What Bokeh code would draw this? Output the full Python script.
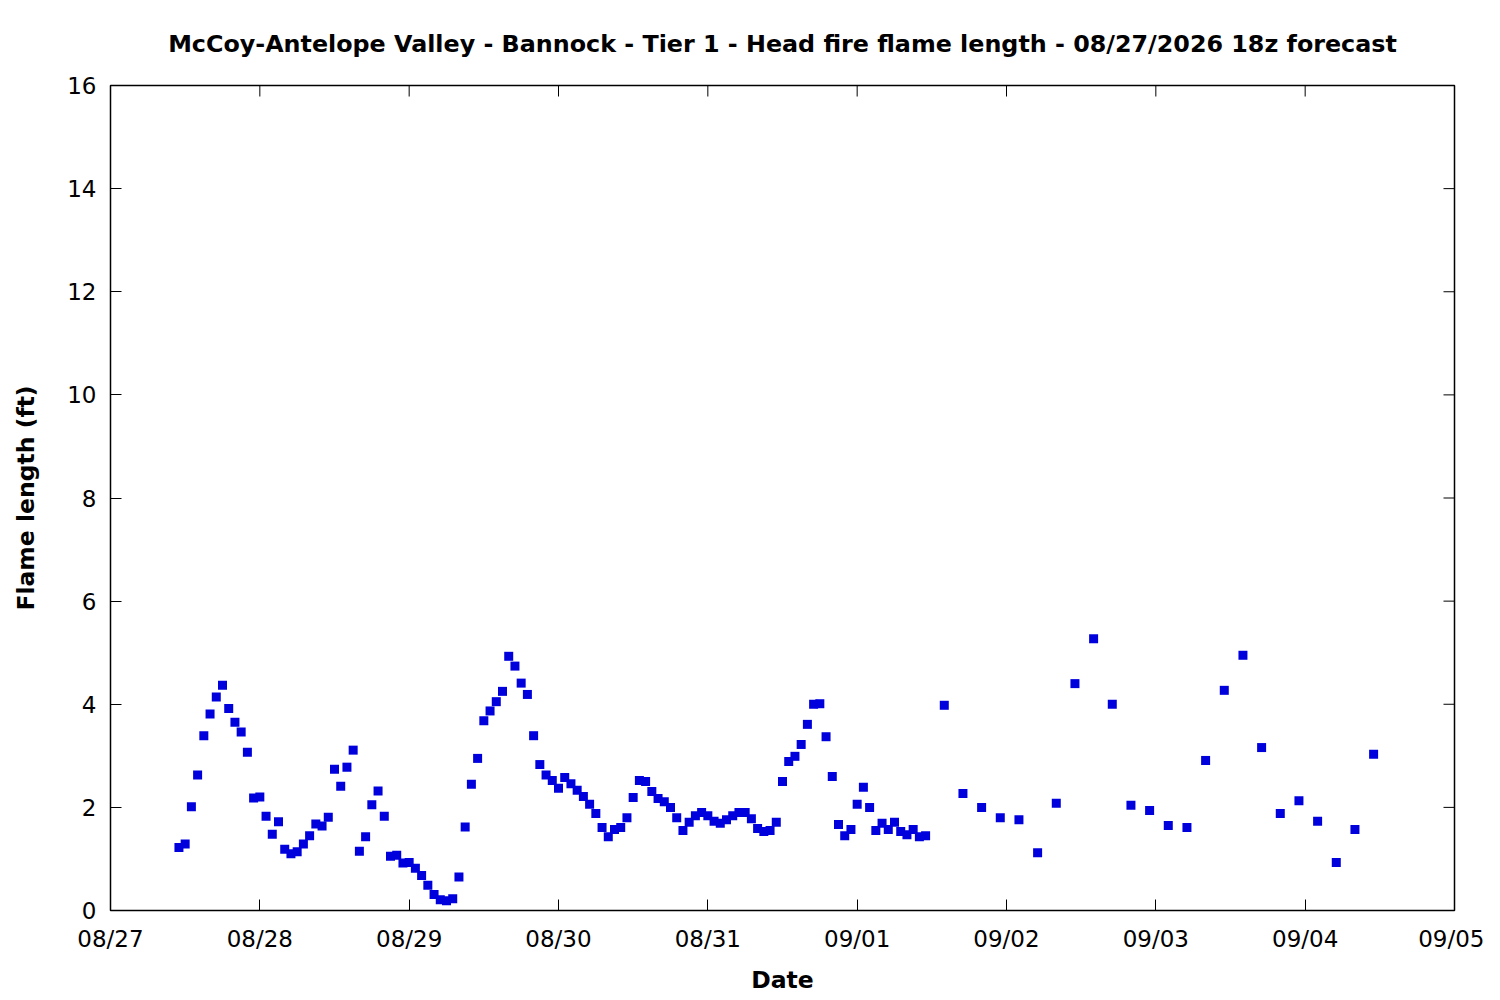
import pandas as pd
from bokeh.plotting import figure
from bokeh.models import (ColumnDataSource, FixedTicker, DatetimeTickFormatter,
                          Range1d, Title)
from bokeh.embed import file_html
from bokeh.resources import INLINE

title_text = "McCoy-Antelope Valley - Bannock - Tier 1 - Head fire flame length - 08/27/2026 18z forecast"
x_label = "Date"
y_label = "Flame length (ft)"

# hourly forecast points, starting 08/27 11z
hourly_start = "2026-08-27 11:00"
hourly_values = [
    1.22, 1.29, 2.01, 2.63, 3.39, 3.81, 4.14, 4.37, 3.92, 3.65,
    3.46, 3.07, 2.18, 2.20, 1.83, 1.48, 1.72, 1.19, 1.10, 1.14,
    1.29, 1.45, 1.68, 1.64, 1.81, 2.74, 2.41, 2.78, 3.11, 1.15,
    1.43, 2.05, 2.32, 1.83, 1.05, 1.07, 0.92, 0.93, 0.82, 0.68,
    0.49, 0.31, 0.21, 0.19, 0.23, 0.65, 1.62, 2.45, 2.95, 3.68,
    3.87, 4.05, 4.25, 4.93, 4.74, 4.41, 4.19, 3.39, 2.83, 2.63,
    2.52, 2.37, 2.58, 2.46, 2.33, 2.21, 2.06, 1.88, 1.61, 1.43,
    1.57, 1.61, 1.80, 2.19, 2.52, 2.50, 2.31, 2.17, 2.11, 2.00,
    1.80, 1.55, 1.71, 1.84, 1.90, 1.84, 1.73, 1.69, 1.76, 1.84,
    1.90, 1.90, 1.78, 1.59, 1.53, 1.55, 1.71, 2.50, 2.89, 2.99,
    3.22, 3.61, 4.00, 4.01, 3.37, 2.60, 1.67, 1.45, 1.57, 2.06,
    2.39, 2.00, 1.55, 1.69, 1.57, 1.71, 1.53, 1.47, 1.57, 1.43,
    1.45,
]

# 3-hourly forecast points, starting 09/01 14z
three_hourly_start = "2026-09-01 14:00"
three_hourly_values = [
    3.98, 2.27, 2.00, 1.80, 1.76, 1.12, 2.08, 4.40, 5.27, 4.00,
    2.04, 1.94, 1.65, 1.61, 2.91, 4.27, 4.95, 3.16, 1.88, 2.13,
    1.73, 0.93, 1.57, 3.03,
]

tick_dates = ["2026-08-27", "2026-08-28", "2026-08-29", "2026-08-30", "2026-08-31",
              "2026-09-01", "2026-09-02", "2026-09-03", "2026-09-04", "2026-09-05"]
y_ticks = [0, 2, 4, 6, 8, 10, 12, 14, 16]
y_min, y_max = 0, 16

times = list(pd.date_range(hourly_start, periods=len(hourly_values), freq="h")) + \
        list(pd.date_range(three_hourly_start, periods=len(three_hourly_values), freq="3h"))
values = hourly_values + three_hourly_values
source = ColumnDataSource(data=dict(t=times, v=values))

def ms(d):
    return pd.Timestamp(d).value / 1e6

tick_ms = [ms(d) for d in tick_dates]
x_min, x_max = tick_ms[0], tick_ms[-1]

FONT = "DejaVu Sans"
FS = "23px"
FRAME_W, FRAME_H = 1344, 825
TICK_PX = 11

p = figure(frame_width=FRAME_W, frame_height=FRAME_H, x_axis_type="datetime",
           x_range=Range1d(x_min, x_max), y_range=Range1d(y_min, y_max),
           output_backend="svg", toolbar_location=None,
           min_border_left=110, min_border_right=30, min_border_top=85, min_border_bottom=74)
p.title = Title(text=title_text, align="center", text_font=FONT, text_font_size="23.8px",
                text_font_style="bold", text_color="black", standoff=55)
p.outline_line_color = "black"
p.outline_line_width = 1.5
p.xgrid.visible = False
p.ygrid.visible = False
p.background_fill_color = "white"
p.border_fill_color = "white"

fmt = DatetimeTickFormatter(days="%m/%d", months="%m/%d", hours="%m/%d", years="%m/%d")

def style_axis(ax):
    ax.major_tick_in = TICK_PX
    ax.major_tick_out = 0
    ax.minor_tick_in = 0
    ax.minor_tick_out = 0
    ax.major_tick_line_color = "black"
    ax.major_tick_line_width = 1
    ax.axis_line_color = None
    ax.major_label_text_font = FONT
    ax.major_label_text_font_size = FS
    ax.major_label_text_color = "black"
    ax.axis_label_text_font = FONT
    ax.axis_label_text_font_size = "23.5px"
    ax.axis_label_text_font_style = "bold"
    ax.axis_label_text_color = "black"

xa = p.xaxis[0]
xa.ticker = FixedTicker(ticks=tick_ms)
xa.formatter = fmt
xa.axis_label = x_label
style_axis(xa)
xa.major_label_standoff = 15
xa.axis_label_standoff = 11

ya = p.yaxis[0]
ya.ticker = FixedTicker(ticks=y_ticks)
ya.axis_label = y_label
style_axis(ya)
ya.major_label_standoff = 14
ya.axis_label_standoff = 24

# mirrored ticks on the top and right edges (gnuplot style border ticks)
tick_dy = TICK_PX * (y_max - y_min) / FRAME_H
tick_dx = TICK_PX * (x_max - x_min) / FRAME_W
p.segment(x0=tick_ms, x1=tick_ms, y0=[y_max] * len(tick_ms), y1=[y_max - tick_dy] * len(tick_ms),
          line_color="black", line_width=1)
p.segment(x0=[x_max] * len(y_ticks), x1=[x_max - tick_dx] * len(y_ticks), y0=y_ticks, y1=y_ticks,
          line_color="black", line_width=1)

p.scatter("t", "v", source=source, marker="square", size=9,
          fill_color="#0000dd", line_color=None)

open("out.html", "w").write(file_html(p, INLINE))
